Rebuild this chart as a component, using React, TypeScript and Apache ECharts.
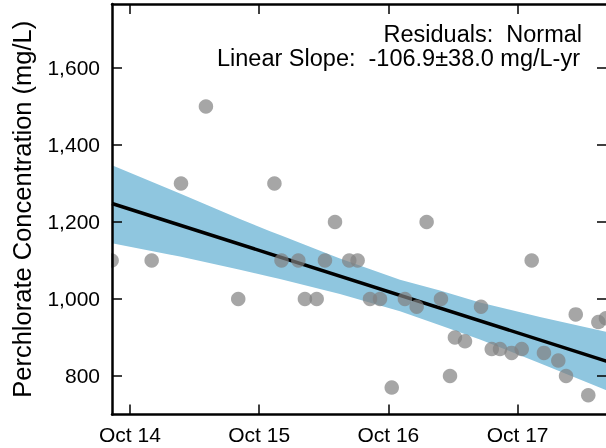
import React, { useEffect, useRef } from "react";
import * as echarts from "echarts";

// Axis ticks (x in decimal years; "Oct 14" = October 2014)
const xTickValues = [2014.75, 2015.75, 2016.75, 2017.75];
const xTickLabels = ["Oct 14", "Oct 15", "Oct 16", "Oct 17"];
const yTickValues = [800, 1000, 1200, 1400, 1600];
const yTickLabels = ["800", "1,000", "1,200", "1,400", "1,600"];

const X_MIN = 2014.611;
const X_MAX = 2018.442;
const Y_MIN = 700;
const Y_MAX = 1766;

// Sample observations
const sampleDates = [
  2014.608, 2014.918, 2015.145, 2015.338, 2015.588, 2015.868, 2015.923, 2016.053,
  2016.104, 2016.195, 2016.259, 2016.337, 2016.447, 2016.512, 2016.608, 2016.685,
  2016.776, 2016.878, 2016.969, 2017.046, 2017.157, 2017.227, 2017.265, 2017.343,
  2017.467, 2017.55, 2017.614, 2017.704, 2017.782, 2017.859, 2017.954, 2018.065,
  2018.125, 2018.2, 2018.297, 2018.375, 2018.434,
];
const concentrations = [
  1100, 1100, 1300, 1500, 1000, 1300, 1100, 1100,
  1000, 1000, 1100, 1200, 1100, 1100, 1000, 1000,
  770, 1000, 980, 1200, 1000, 800, 900, 890,
  980, 870, 870, 860, 870, 1100, 860, 840,
  800, 960, 750, 940, 950,
];

// Linear trend line
const trendDates = [2014.611, 2018.442];
const trendValues = [1248, 838];

// Confidence band
const bandDates = [2014.611, 2015.137, 2015.601, 2015.834, 2015.911, 2016.375, 2016.84, 2017.149, 2017.459, 2017.923, 2018.442];
const bandUpper = [1347, 1274, 1208, 1176, 1166, 1105, 1050, 1022, 991, 953, 914];
const bandLower = [1145, 1110, 1076, 1058, 1052, 1013, 968, 932, 895, 833, 762];

const annotationLines = ["Residuals:  Normal", "Linear Slope:  -106.9\u00b138.0 mg/L-yr"];
const yTitle = "Perchlorate Concentration (mg/L)";

const FONT = "'Liberation Sans', Arial, Helvetica, sans-serif";

export default function App() {
  const ref = useRef<HTMLDivElement>(null);

  useEffect(() => {
    if (!ref.current) return;
    const chart = echarts.init(ref.current, null, { renderer: "svg" });

    const xFmt = (v: number) => {
      const i = xTickValues.findIndex((t) => Math.abs(t - v) < 1e-6);
      return i >= 0 ? xTickLabels[i] : "";
    };
    const yFmt = (v: number) => {
      const i = yTickValues.findIndex((t) => Math.abs(t - v) < 1e-6);
      return i >= 0 ? yTickLabels[i] : "";
    };

    const axisLine = { show: true, lineStyle: { color: "#000", width: 2.5 } };
    const tick = (values: number[]) => ({
      show: true,
      inside: true,
      length: 10,
      lineStyle: { color: "#000", width: 1.5 },
      customValues: values,
    });

    chart.setOption({
      animation: false,
      grid: { left: 112, right: 5, top: 4, bottom: 33.5 },
      xAxis: [
        {
          type: "value",
          position: "bottom",
          min: X_MIN,
          max: X_MAX,
          z: 5,
          axisLine,
          splitLine: { show: false },
          axisTick: tick(xTickValues),
          axisLabel: {
            customValues: xTickValues,
            formatter: xFmt,
            fontSize: 21,
            color: "#000",
            fontFamily: FONT,
            margin: 9,
          },
        },
        {
          type: "value",
          position: "top",
          min: X_MIN,
          max: X_MAX,
          z: 5,
          axisLine,
          splitLine: { show: false },
          axisTick: tick(xTickValues),
          axisLabel: { show: false },
        },
      ],
      yAxis: [
        {
          type: "value",
          position: "left",
          min: Y_MIN,
          max: Y_MAX,
          z: 5,
          axisLine,
          splitLine: { show: false },
          axisTick: tick(yTickValues),
          axisLabel: {
            customValues: yTickValues,
            formatter: yFmt,
            fontSize: 21,
            color: "#000",
            fontFamily: FONT,
            margin: 12,
          },
          name: yTitle,
          nameLocation: "middle",
          nameGap: 77,
          nameTextStyle: { fontSize: 25.5, color: "#000", fontFamily: FONT },
        },
        {
          type: "value",
          position: "right",
          min: Y_MIN,
          max: Y_MAX,
          z: 5,
          axisLine,
          splitLine: { show: false },
          axisTick: tick(yTickValues),
          axisLabel: { show: false },
        },
      ],
      graphic: [
        {
          type: "rect",
          z: 4,
          silent: true,
          shape: { x: 0, y: 0, width: 111, height: 448 },
          style: { fill: "#fff" },
        },
        {
          type: "text",
          z: 10,
          x: 582,
          y: 33.5,
          style: { text: annotationLines[0], fontSize: 23.5, fontFamily: FONT, fill: "#000", align: "right", verticalAlign: "middle" },
        },
        {
          type: "text",
          z: 10,
          x: 580,
          y: 57.5,
          style: { text: annotationLines[1], fontSize: 23.5, fontFamily: FONT, fill: "#000", align: "right", verticalAlign: "middle" },
        },
      ],
      series: [
        {
          type: "custom",
          z: 1,
          silent: true,
          clip: true,
          xAxisIndex: 0,
          yAxisIndex: 0,
          data: bandDates.map((d, i) => [d, bandUpper[i], bandLower[i]]),
          encode: { x: 0, y: [1, 2] },
          renderItem: (params: any, api: any) => {
            if (params.dataIndex !== 0) return null;
            const pts: number[][] = [];
            for (let i = 0; i < bandDates.length; i++) pts.push(api.coord([bandDates[i], bandUpper[i]]));
            for (let i = bandDates.length - 1; i >= 0; i--) pts.push(api.coord([bandDates[i], bandLower[i]]));
            return { type: "polygon", shape: { points: pts }, style: { fill: "#8fc6df" } };
          },
        },
        {
          type: "line",
          z: 2,
          silent: true,
          xAxisIndex: 0,
          yAxisIndex: 0,
          symbol: "none",
          data: trendDates.map((d, i) => [d, trendValues[i]]),
          lineStyle: { color: "#000", width: 3.5 },
        },
        {
          type: "scatter",
          z: 3,
          clip: false,
          xAxisIndex: 0,
          yAxisIndex: 0,
          symbolSize: 14.5,
          data: sampleDates.map((d, i) => [d, concentrations[i]]),
          itemStyle: { color: "#808080", opacity: 0.7 },
        },
      ],
    });

    return () => chart.dispose();
  }, []);

  return <div ref={ref} style={{ position: "fixed", left: 0, top: 0, width: 612, height: 448 }} />;
}
